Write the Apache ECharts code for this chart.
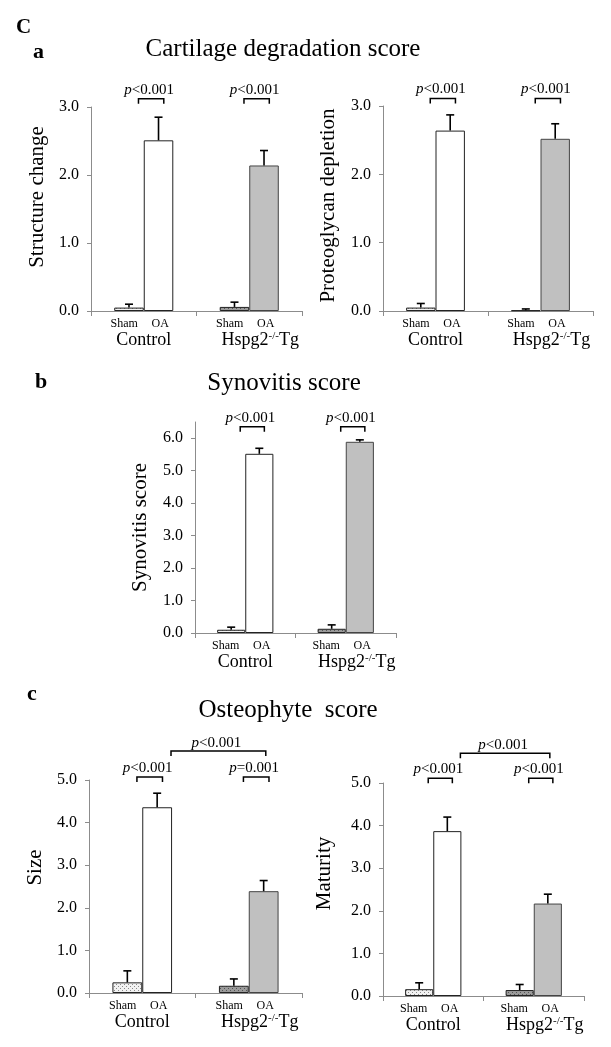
<!DOCTYPE html>
<html><head><meta charset="utf-8">
<script src="https://cdn.jsdelivr.net/npm/echarts@6/dist/echarts.min.js"></script>
<style>html,body{margin:0;padding:0;background:#fff}#c{width:611px;height:1047px}</style>
</head><body><div id="c"></div>
<script>
// ---------- data ----------
const categories = ['Control', 'Hspg2-/-Tg'];
const barNames = ['Sham', 'OA'];
const yTickLabels = ['0.0', '1.0', '2.0', '3.0', '4.0', '5.0', '6.0'];

const structShamMean = [0.05, 0.06];
const structShamSE   = [0.05, 0.07];
const structOAMean   = [2.51, 2.14];
const structOASE     = [0.34, 0.22];

const proteoShamMean = [0.05, 0.01];
const proteoShamSE   = [0.06, 0.02];
const proteoOAMean   = [2.64, 2.52];
const proteoOASE     = [0.23, 0.22];

const synShamMean = [0.10, 0.13];
const synShamSE   = [0.08, 0.12];
const synOAMean   = [5.52, 5.89];
const synOASE     = [0.17, 0.06];

const sizeShamMean = [0.25, 0.17];
const sizeShamSE   = [0.27, 0.16];
const sizeOAMean   = [4.36, 2.39];
const sizeOASE     = [0.33, 0.25];

const matShamMean = [0.16, 0.14];
const matShamSE   = [0.15, 0.13];
const matOAMean   = [3.87, 2.17];
const matOASE     = [0.33, 0.22];

const pStruct = ['<0.001', '<0.001'];
const pProteo = ['<0.001', '<0.001'];
const pSyn    = ['<0.001', '<0.001'];
const pSize   = ['<0.001', '=0.001'];
const pMat    = ['<0.001', '<0.001'];
const pSizeBetween = '<0.001';
const pMatBetween  = '<0.001';

// ---------- styles ----------
const FONT = '"Liberation Serif", "Times New Roman", serif';
function pattern(bg, dot) {
  const c = document.createElement('canvas'); c.width = 4; c.height = 4;
  const g = c.getContext('2d');
  g.fillStyle = bg; g.fillRect(0, 0, 4, 4);
  g.fillStyle = dot; g.fillRect(0, 0, 1, 1); g.fillRect(2, 2, 1, 1);
  return { image: c, repeat: 'repeat' };
}
const shamFill = [pattern('#f2f2f2', '#8a8a8a'), pattern('#9a9a9a', '#555555')];
const oaFill = ['#ffffff', '#c0c0c0'];
const oaBorder = ['#222222', '#444444'];
const BAR_FRAC = 0.28;

const panels = [
  { grid: { left: 91, top: 107, width: 211, height: 204 }, yName: 'Structure change', nameGap: 43, namePad: 24, max: 3,
    sham: structShamMean, shamSE: structShamSE, oa: structOAMean, oaSE: structOASE, p: pStruct, pLevel: 3.12 },
  { grid: { left: 383, top: 106, width: 210, height: 205 }, yName: 'Proteoglycan depletion', nameGap: 44, namePad: 6, max: 3,
    sham: proteoShamMean, shamSE: proteoShamSE, oa: proteoOAMean, oaSE: proteoOASE, p: pProteo, pLevel: 3.11 },
  { grid: { left: 195, top: 422, width: 201, height: 211 }, yName: 'Synovitis score', nameGap: 44, namePad: 0, max: 6.5,
    sham: synShamMean, shamSE: synShamSE, oa: synOAMean, oaSE: synOASE, p: pSyn, pLevel: 6.35 },
  { grid: { left: 89, top: 780, width: 213, height: 213 }, yName: 'Size', nameGap: 43, namePad: 38, max: 5,
    sham: sizeShamMean, shamSE: sizeShamSE, oa: sizeOAMean, oaSE: sizeOASE, p: pSize, pLevel: 5.07,
    between: pSizeBetween, betweenLevel: 5.68 },
  { grid: { left: 383, top: 783, width: 201, height: 213 }, yName: 'Maturity', nameGap: 48, namePad: 32, max: 5,
    sham: matShamMean, shamSE: matShamSE, oa: matOAMean, oaSE: matOASE, p: pMat, pLevel: 5.11,
    between: pMatBetween, betweenLevel: 5.70 }
];

function catLabel(v) {
  let g;
  if (v.indexOf('-/-') >= 0) {
    const parts = v.split('-/-');
    g = '{pad|}{g|' + parts[0] + '}{sup|-/-}{g|' + parts[1] + '}';
  } else {
    g = '{g|' + v + '}';
  }
  return '{s|' + barNames[0] + '}{o|' + barNames[1] + '}\n' + g;
}
const pRich = {
  i: { fontFamily: FONT, fontSize: 15, fontStyle: 'italic', fill: '#000' },
  n: { fontFamily: FONT, fontSize: 15, fill: '#000' }
};
const titleStyle = (size, bold) => ({ fontFamily: FONT, fontSize: size, fontWeight: bold ? 'bold' : 'normal', color: '#000' });

const option = {
  animation: false,
  backgroundColor: '#fff',
  title: [
    { text: 'C', left: 16, top: 17, padding: 0, textStyle: titleStyle(21, true) },
    { text: 'a', left: 33, top: 41, padding: 0, textStyle: titleStyle(22, true) },
    { text: 'Cartilage degradation score', left: 283, top: 37, padding: 0, textAlign: 'center', textStyle: titleStyle(25, false) },
    { text: 'b', left: 35, top: 371, padding: 0, textStyle: titleStyle(22, true) },
    { text: 'Synovitis score', left: 284, top: 371, padding: 0, textAlign: 'center', textStyle: titleStyle(25, false) },
    { text: 'c', left: 27, top: 683, padding: 0, textStyle: titleStyle(22, true) },
    { text: 'Osteophyte  score', left: 288, top: 698, padding: 0, textAlign: 'center', textStyle: titleStyle(25, false) }
  ],
  grid: panels.map(p => p.grid),
  xAxis: panels.map((p, i) => ({
    type: 'category', gridIndex: i, data: categories,
    axisLine: { lineStyle: { color: '#8c8c8c', width: 1 } },
    axisTick: { show: true, length: 5, lineStyle: { color: '#8c8c8c' } },
    axisLabel: {
      margin: 6, formatter: catLabel, interval: 0,
      rich: {
        s: { fontFamily: FONT, fontSize: 12, color: '#000', width: 33, align: 'center', lineHeight: 14 },
        o: { fontFamily: FONT, fontSize: 12, color: '#000', width: 39, align: 'center', lineHeight: 14 },
        g: { fontFamily: FONT, fontSize: 18, color: '#000', lineHeight: 18 },
        sup: { fontFamily: FONT, fontSize: 11, color: '#000', verticalAlign: 'top', lineHeight: 18 },
        pad: { width: 22 }
      }
    }
  })),
  yAxis: panels.map((p, i) => ({
    type: 'value', gridIndex: i, min: 0, max: p.max, interval: 1,
    name: p.yName, nameLocation: 'middle', nameGap: p.nameGap,
    nameTextStyle: { fontFamily: FONT, fontSize: 21, color: '#000', padding: [0, 0, 0, p.namePad] },
    axisLine: { show: true, lineStyle: { color: '#8c8c8c', width: 1 } },
    axisTick: { show: true, length: 4, lineStyle: { color: '#8c8c8c' } },
    splitLine: { show: false },
    axisLabel: { fontFamily: FONT, fontSize: 16, color: '#000', margin: 12, showMaxLabel: p.max % 1 === 0,
      formatter: v => yTickLabels[Math.round(v)] }
  })),
  series: []
};

panels.forEach((p, i) => {
  option.series.push({
    type: 'bar', name: 'Sham', xAxisIndex: i, yAxisIndex: i,
    barWidth: (BAR_FRAC * 100) + '%', barGap: '0%',
    data: p.sham.map((v, k) => ({ value: v, itemStyle: { color: shamFill[k], borderColor: '#222', borderWidth: 1 } }))
  });
  option.series.push({
    type: 'bar', name: 'OA', xAxisIndex: i, yAxisIndex: i,
    barWidth: (BAR_FRAC * 100) + '%', barGap: '0%',
    data: p.oa.map((v, k) => ({ value: v, itemStyle: { color: oaFill[k], borderColor: oaBorder[k], borderWidth: 1 } }))
  });
  // error bars
  const errData = [];
  p.sham.forEach((v, k) => errData.push([k, v, p.shamSE[k], -1]));
  p.oa.forEach((v, k) => errData.push([k, v, p.oaSE[k], 1]));
  option.series.push({
    type: 'custom', xAxisIndex: i, yAxisIndex: i, z: 5, data: errData,
    renderItem: (params, api) => {
      const base = api.coord([api.value(0), api.value(1)]);
      const top = api.coord([api.value(0), api.value(1) + api.value(2)]);
      const band = api.size([1, 0])[0];
      const x = base[0] + api.value(3) * band * BAR_FRAC / 2;
      const st = { stroke: '#000', lineWidth: 1.6 };
      return { type: 'group', children: [
        { type: 'line', shape: { x1: x, y1: base[1], x2: x, y2: top[1] }, style: st },
        { type: 'line', shape: { x1: x - 4, y1: top[1], x2: x + 4, y2: top[1] }, style: st }
      ] };
    }
  });
  // brackets within groups
  option.series.push({
    type: 'custom', xAxisIndex: i, yAxisIndex: i, z: 5,
    data: p.p.map((t, k) => [k, p.pLevel]),
    renderItem: (params, api) => {
      const c = api.coord([api.value(0), api.value(1)]);
      const band = api.size([1, 0])[0];
      const x1 = c[0] - 0.05 * band, x2 = c[0] + 0.19 * band, y = c[1];
      const st = { stroke: '#000', lineWidth: 1.5, fill: null };
      return { type: 'group', children: [
        { type: 'polyline', shape: { points: [[x1, y + 5], [x1, y], [x2, y], [x2, y + 5]] }, style: st },
        { type: 'text', style: { text: '{i|p}{n|' + p.p[params.dataIndex] + '}', rich: pRich,
            x: (x1 + x2) / 2 - 2, y: y - 9, align: 'center', verticalAlign: 'middle' } }
      ] };
    }
  });
  if (p.between) {
    option.series.push({
      type: 'custom', xAxisIndex: i, yAxisIndex: i, z: 5,
      data: [[0, p.betweenLevel]],
      renderItem: (params, api) => {
        const c0 = api.coord([0, api.value(1)]);
        const c1 = api.coord([1, api.value(1)]);
        const band = api.size([1, 0])[0];
        const x1 = c0[0] + 0.27 * band, x2 = c1[0] + 0.16 * band, y = c0[1];
        const st = { stroke: '#000', lineWidth: 1.5, fill: null };
        return { type: 'group', children: [
          { type: 'polyline', shape: { points: [[x1, y + 5], [x1, y], [x2, y], [x2, y + 5]] }, style: st },
          { type: 'text', style: { text: '{i|p}{n|' + p.between + '}', rich: pRich,
              x: (x1 + x2) / 2 - 2, y: y - 8, align: 'center', verticalAlign: 'middle' } }
        ] };
      }
    });
  }
});

const chart = echarts.init(document.getElementById('c'), null, { renderer: 'canvas' });
chart.setOption(option);
</script>
</body></html>
